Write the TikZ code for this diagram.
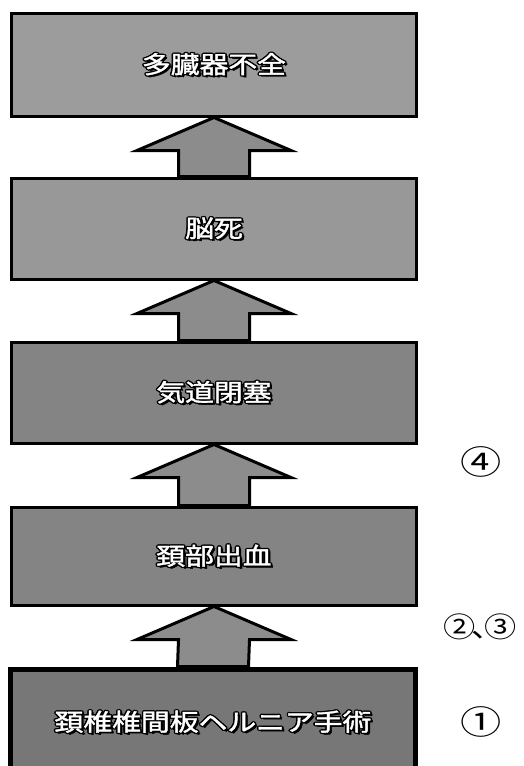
\documentclass[tikz,border=0pt]{standalone}
\usepackage{fontspec}
\usepackage{graphicx}
\newfontfamily\jp{Noto Sans CJK JP}
\newfontfamily\jpb[FakeBold=1.5]{Noto Sans CJK JP}
\usetikzlibrary{calc}
\pgfdeclarelayer{background}
\pgfsetlayers{background,main}
\definecolor{boxgray}{RGB}{132,132,132}
\definecolor{topgray}{RGB}{156,156,156}
\definecolor{arrgray}{RGB}{140,140,140}
\newcommand\shd[3]{\rlap{\kern#1\raisebox{#2}{\textcolor{black}{#3}}}}
\newcommand\olt[1]{\scalebox{1.2}[1]{\jpb%
\shd{-1.3pt}{0pt}{#1}\shd{1.3pt}{0pt}{#1}\shd{0pt}{1.3pt}{#1}\shd{0pt}{-1.3pt}{#1}%
\shd{-0.9pt}{0.9pt}{#1}\shd{0.9pt}{0.9pt}{#1}\shd{-0.9pt}{-0.9pt}{#1}\shd{0.9pt}{-0.9pt}{#1}%
\shd{1.9pt}{-1.9pt}{#1}%
\textcolor{white}{#1}}}
\newcommand\circtxt[1]{\scalebox{1.25}[1]{#1}}
\tikzset{
  box/.style={draw=black, line width=3pt, fill=boxgray, minimum width=405pt,
    inner sep=0pt, font=\jp\fontsize{24pt}{28pt}\selectfont, text=white},
  bigarrow/.style={draw=black, line width=3pt, fill=arrgray, line join=miter},
  numlab/.style={inner sep=0pt, font=\jp\fontsize{33pt}{36pt}\selectfont}
}
\newcommand\bigup[2]{%
  \filldraw[bigarrow] (#1.south) -- ($(#1.south)+(77,33)$) -- ($(#1.south)+(35.5,33)$)
    -- ($(#2.north)+(35.5,0)$) -- ($(#2.north)+(-35.5,0)$) -- ($(#1.south)+(-35.5,33)$)
    -- ($(#1.south)+(-77,33)$) -- cycle;}
\begin{document}
\begin{tikzpicture}[x=1pt,y=-1pt]
\useasboundingbox (0,0) rectangle (523,766);
\node[box, fill=topgray, minimum height=103pt] (t1) at (214,64.5) {\olt{多臓器不全}};
\node[box, minimum height=101pt, fill=topgray!85!boxgray] (t2) at (214,228.5) {\olt{脳死}};
\node[box, minimum height=101pt] (t3) at (214,392.5) {\olt{気道閉塞}};
\node[box, minimum height=98pt] (t4) at (214,556) {\olt{頚部出血}};
\node[box, minimum height=106pt, line width=5pt, fill=boxgray!90!black] (t5) at (213,722) {\olt{頚椎椎間板ヘルニア手術}};
\begin{pgfonlayer}{background}
\bigup{t1}{t2}
\bigup{t2}{t3}
\bigup{t3}{t4}
\bigup{t4}{t5}
\end{pgfonlayer}
\node[numlab] (n4) at (481,462) {\circtxt{④}};
\node[numlab, font=\jp\fontsize{28pt}{32pt}\selectfont] (n23) at (480,627) {\scalebox{1.15}[1]{②\kern-0.12em、\kern-0.62em③}};
\node[numlab] (n1) at (481,722) {\circtxt{①}};
\end{tikzpicture}
\end{document}
